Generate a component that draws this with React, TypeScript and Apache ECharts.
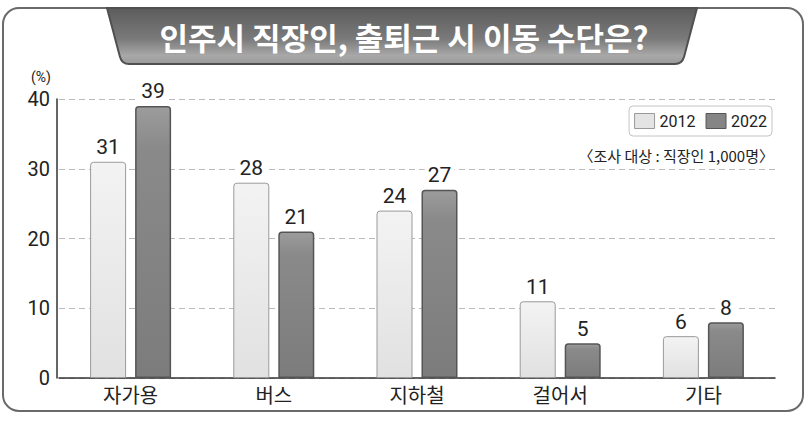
import React, { useEffect, useRef } from "react";
import * as echarts from "echarts";

const categories = ["자가용", "버스", "지하철", "걸어서", "기타"];
const values2012 = [31, 28, 24, 11, 6];
const values2022 = [39, 21, 27, 5, 8];
const seriesNames = ["2012", "2022"];
const yTicks = { min: 0, max: 40, interval: 10 };
const titleText = "인주시 직장인, 출퇴근 시 이동 수단은?";
const noteText = "〈조사 대상 : 직장인 1,000명〉";
const unitText = "(%)";

const FONT = 'Roboto, "Noto Sans CJK KR", sans-serif';

export default function App() {
  const ref = useRef<HTMLDivElement>(null);
  useEffect(() => {
    document.body.style.margin = "0";
    const bannerPath =
      "M107,8 L697,8 L684,57 Q682,64 675,64 L129,64 Q122,64 120,57 Z";
    echarts.graphic.registerShape(
      "banner",
      echarts.graphic.extendPath(bannerPath, {})
    );
    const chart = echarts.init(ref.current!, null, { renderer: "svg" });
    const light = new echarts.graphic.LinearGradient(0, 0, 0, 1, [
      { offset: 0, color: "#f3f3f3" },
      { offset: 1, color: "#e1e1e1" },
    ]);
    const dark = new echarts.graphic.LinearGradient(0, 0, 0, 1, [
      { offset: 0, color: "#9c9c9c" },
      { offset: 0.15, color: "#8a8a8a" },
      { offset: 1, color: "#7c7c7c" },
    ]);
    const labelCfg = {
      show: true,
      position: "top" as const,
      distance: 4,
      fontSize: 21,
      color: "#222",
      fontFamily: FONT,
      backgroundColor: "#fff",
      padding: [0, 3],
    };
    chart.setOption({
      animation: false,
      textStyle: { fontFamily: FONT },
      grid: { left: 59, right: 33, top: 99, bottom: 43, containLabel: false },
      legend: {
        right: 36,
        top: 106,
        itemWidth: 20,
        itemHeight: 15,
        itemGap: 10,
        borderColor: "#c4c4c4",
        borderWidth: 1,
        borderRadius: 4,
        padding: [7, 5, 7, 5],
        textStyle: { fontSize: 16, color: "#222", fontFamily: FONT },
        data: [
          {
            name: seriesNames[0],
            icon: "rect",
            itemStyle: { color: "#e4e4e4", borderColor: "#999", borderWidth: 1 },
          },
          {
            name: seriesNames[1],
            icon: "rect",
            itemStyle: { color: "#858585", borderColor: "#555", borderWidth: 1 },
          },
        ],
      },
      xAxis: {
        type: "category",
        data: categories,
        axisLine: { lineStyle: { color: "#333", width: 1.5 } },
        axisTick: { show: false },
        axisLabel: { fontSize: 20, color: "#222", margin: 8, fontFamily: FONT },
      },
      yAxis: {
        type: "value",
        min: yTicks.min,
        max: yTicks.max,
        interval: yTicks.interval,
        offset: 2,
        axisLine: { show: true, lineStyle: { color: "#333", width: 1.5 } },
        axisTick: { show: false },
        axisLabel: { fontSize: 20, color: "#222", margin: 7, fontFamily: FONT },
        splitLine: { lineStyle: { color: "#bbb", type: [6, 4], width: 1 } },
      },
      series: [
        {
          name: seriesNames[0],
          type: "bar",
          data: values2012,
          barWidth: 36,
          barGap: "25%",
          itemStyle: {
            color: light,
            borderColor: "#9a9a9a",
            borderWidth: 1,
            borderRadius: [3, 3, 0, 0],
          },
          label: labelCfg,
        },
        {
          name: seriesNames[1],
          type: "bar",
          data: values2022,
          barWidth: 36,
          itemStyle: {
            color: dark,
            borderColor: "#555",
            borderWidth: 1.5,
            borderRadius: [3, 3, 0, 0],
          },
          label: labelCfg,
        },
      ],
      graphic: [
        {
          type: "rect",
          z: -10,
          silent: true,
          shape: { x: 3, y: 8, width: 800, height: 403, r: 16 },
          style: { fill: "#fff", stroke: "#6a6a6a", lineWidth: 2 },
        },
        {
          type: "banner",
          z: 10,
          silent: true,
          style: {
            fill: new echarts.graphic.LinearGradient(0, 0, 0, 1, [
              { offset: 0, color: "#5c5c5c" },
              { offset: 0.55, color: "#7a7a7a" },
              { offset: 0.85, color: "#a8a8a8" },
              { offset: 1, color: "#9a9a9a" },
            ]),
            stroke: "#505050",
            lineWidth: 2,
          },
        },
        {
          type: "text",
          z: 11,
          silent: true,
          x: 404,
          y: 36,
          style: {
            text: titleText,
            fill: "#fff",
            font: 'bold 31px "Noto Sans CJK KR", sans-serif',
            align: "center",
            verticalAlign: "middle",
          },
        },
        {
          type: "text",
          silent: true,
          x: 41,
          y: 77,
          style: {
            text: unitText,
            fill: "#222",
            font: "14px " + FONT,
            align: "center",
            verticalAlign: "middle",
          },
        },
        {
          type: "text",
          silent: true,
          x: 774,
          y: 155,
          style: {
            text: noteText,
            fill: "#222",
            font: '15px "Noto Sans CJK KR", sans-serif',
            align: "right",
            verticalAlign: "middle",
          },
        },
      ],
    });
    return () => chart.dispose();
  }, []);
  return <div ref={ref} style={{ width: 808, height: 421 }} />;
}
